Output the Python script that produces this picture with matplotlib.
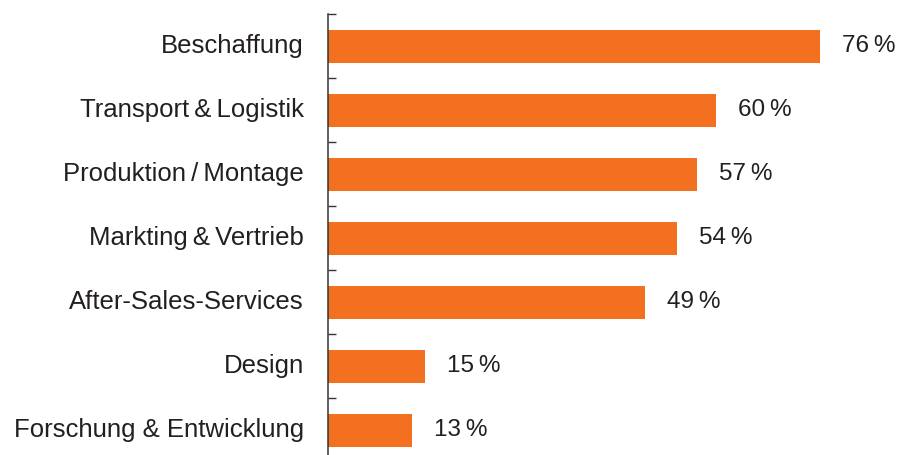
import matplotlib
matplotlib.use("Agg")
import matplotlib.pyplot as plt

categories = ["Beschaffung", "Transport\u2009&\u2009Logistik", "Produktion\u2009/\u2009Montage",
              "Markting\u2009&\u2009Vertrieb", "After-Sales-Services", "Design",
              "Forschung & Entwicklung"]
values = [76, 60, 57, 54, 49, 15, 13]

W, H = 912, 455
fig = plt.figure(figsize=(W / 100, H / 100), dpi=100)
ax = fig.add_axes([328 / W, -7 / H, (W - 328) / W, 448 / H])

orange = "#F37021"
text_c = "#231F20"
px = 6.47  # pixels per percentage point
ypos = list(range(len(categories)))
ax.barh(ypos, values, height=33 / 64, color=orange)
ax.set_ylim(len(categories) - 0.5, -0.5)
ax.set_xlim(0, (W - 328) / px)

for y, v in zip(ypos, values):
    ax.text(v + 22 / px, y, f"{v}\u2009%", va="center", ha="left",
            fontsize=17.5, color=text_c, family="Liberation Sans")
for y, c in zip(ypos, categories):
    ax.text(-24 / px, y, c, va="center", ha="right",
            fontsize=18.5, color=text_c, family="Liberation Sans")

for s in ["top", "right", "bottom"]:
    ax.spines[s].set_visible(False)
ax.spines["left"].set_color("#333333")
ax.spines["left"].set_linewidth(1.1)
ax.set_xticks([])
ax.set_yticks([i - 0.5 for i in range(len(categories))])
ax.set_yticklabels([])
ax.tick_params(axis="y", direction="in", length=6, width=1, color="#333333")

fig.savefig("out.png", dpi=100)
